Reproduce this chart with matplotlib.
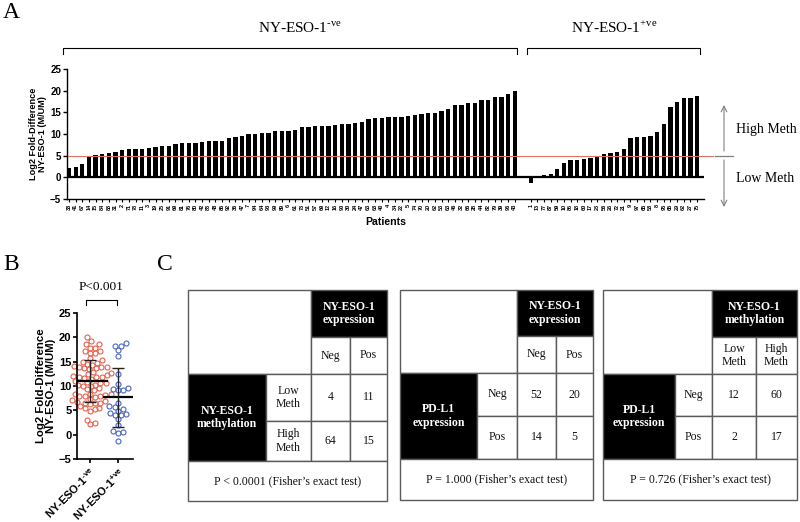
import numpy as np
import matplotlib.pyplot as plt
from matplotlib.patches import Rectangle

# DATA
# panel A / B : NY-ESO-1 negative patients (sorted as in the bar chart)
neg_ids = [38, 41, 67, 14, 15, 84, 88, 31, 2, 71, 78, 11, 3, 19, 25, 91, 69, 81, 76, 80,
           42, 83, 48, 86, 92, 36, 47, 7, 94, 64, 93, 99, 89, 6, 61, 73, 51, 57, 69, 12,
           16, 90, 30, 24, 47, 63, 68, 40, 4, 34, 22, 5, 74, 70, 20, 62, 53, 63, 46, 32,
           66, 28, 44, 82, 79, 39, 96, 43]
neg_vals = [2.2, 2.4, 3.1, 4.9, 5.2, 5.4, 5.5, 5.8, 6.2, 6.5, 6.6, 6.6, 6.7, 7.0, 7.2, 7.3,
            7.7, 7.9, 7.9, 8.0, 8.2, 8.3, 8.4, 8.4, 9.1, 9.3, 9.5, 10.0, 10.1, 10.2, 10.3,
            10.7, 10.7, 10.8, 11.0, 11.5, 11.7, 11.8, 11.8, 11.8, 12.0, 12.2, 12.4, 12.6,
            12.8, 13.5, 13.6, 13.8, 13.9, 13.9, 13.9, 14.2, 14.3, 14.6, 14.8, 14.9, 15.3,
            15.7, 16.8, 16.8, 17.2, 17.2, 17.9, 17.9, 18.6, 18.6, 19.2, 20.0]
# NY-ESO-1 positive patients
pos_ids = [1, 13, 77, 87, 59, 10, 85, 18, 60, 17, 23, 56, 26, 72, 21, 9, 97, 65, 58, 8,
           95, 65, 29, 62, 27, 75]
pos_vals = [-1.2, 0.4, 0.6, 0.7, 1.9, 3.2, 4.0, 4.0, 4.3, 4.5, 4.8, 5.3, 5.6, 5.8, 6.5,
            9.1, 9.2, 9.4, 9.5, 10.5, 12.4, 16.2, 17.3, 18.2, 18.2, 18.8]
threshold = 5

# panel C tables
tables = [
    dict(col_head="NY-ESO-1\nexpression", cols=["Neg", "Pos"],
         row_head="NY-ESO-1\nmethylation", rows=["Low\nMeth", "High\nMeth"],
         vals=[[4, 11], [64, 15]], p="P < 0.0001 (Fisher\u2019s exact test)"),
    dict(col_head="NY-ESO-1\nexpression", cols=["Neg", "Pos"],
         row_head="PD-L1\nexpression", rows=["Neg", "Pos"],
         vals=[[52, 20], [14, 5]], p="P = 1.000 (Fisher\u2019s exact test)"),
    dict(col_head="NY-ESO-1\nmethylation", cols=["Low\nMeth", "High\nMeth"],
         row_head="PD-L1\nexpression", rows=["Neg", "Pos"],
         vals=[[12, 60], [2, 17]], p="P = 0.726 (Fisher\u2019s exact test)"),
]

NEG_LABEL = "NY-ESO-1$^{\\mathregular{\u2010ve}}$"
POS_LABEL = "NY-ESO-1$^{\\mathregular{+ve}}$"

SANS = 'Liberation Sans'
SERIF = 'Liberation Serif'
W, H = 800, 522

def fx(px):
    return px / W

def fy(py):
    return 1 - py / H

fig = plt.figure(figsize=(8, 5.22), dpi=100)

# ---------------- panel A
axA = fig.add_axes([fx(66.7), fy(199), fx(704) - fx(66.7), fy(69) - fy(199)])
xn = np.arange(len(neg_vals))
xp = len(neg_vals) + 1.4 + np.arange(len(pos_vals))
axA.bar(xn, neg_vals, width=0.65, color='black')
axA.bar(xp, pos_vals, width=0.65, color='black')
axA.axhline(0, color='black', lw=1.6)
axA.axhline(threshold, color='#e0705f', lw=0.8, xmin=0, xmax=1.014, clip_on=False)
axA.set_xlim(-0.35, xp[-1] + 1.05)
axA.set_ylim(-5, 25)
axA.set_yticks(range(-5, 26, 5))
axA.set_xticks(np.concatenate([xn, xp]))
axA.set_xticklabels([str(i) for i in neg_ids + pos_ids], rotation=90,
                    fontsize=4, fontweight='bold', family=SANS)
for lab in axA.get_yticklabels():
    lab.set_fontweight('bold')
    lab.set_family(SANS)
axA.tick_params(axis='y', labelsize=7, length=3, width=1, pad=1)
axA.tick_params(axis='x', length=2.5, width=0.8, pad=1)
for s in ['top', 'right']:
    axA.spines[s].set_visible(False)
axA.spines['left'].set_linewidth(1)
axA.spines['bottom'].set_linewidth(1)
axA.set_ylabel("Log2 Fold-Difference\nNY-ESO-1 (M/UM)", fontsize=6.6,
               fontweight='bold', family=SANS, labelpad=2, linespacing=1.0)
axA.set_xlabel("Patients", fontsize=7.6, fontweight='bold', family=SANS, labelpad=5)

# ---------------- panel B
axB = fig.add_axes([fx(77), fy(459), fx(133) - fx(77), fy(313) - fy(459)])


def swarm(vals, center, xscale=28.0, yscale=4.87, d=5.0):
    vals = np.asarray(vals)
    order = np.argsort(vals)
    placed = []
    xs = np.zeros(len(vals))
    for i in order:
        y = vals[i] * yscale
        off = 0.0
        for k in range(60):
            cands = [0.0] if k == 0 else [k * 0.8, -k * 0.8]
            found = False
            for c in cands:
                if all((c - px) ** 2 + (y - py) ** 2 >= d * d for px, py in placed):
                    off = c
                    found = True
                    break
            if found:
                break
        placed.append((off, y))
        xs[i] = center + off / xscale
    return xs


groups = [(neg_vals, '#e8604c', 0.6), (pos_vals, '#4a68c4', 0.5)]
for gi, (vals, col, half) in enumerate(groups):
    xs = swarm(vals, gi)
    axB.plot(xs, vals, 'o', ms=3.6, mfc='none', mec=col, mew=0.8, clip_on=False)
    m = np.mean(vals)
    sd = np.std(vals, ddof=1)
    axB.plot([gi - half, gi + half], [m, m], color='black', lw=1.6, zorder=5)
    axB.errorbar(gi, m, yerr=sd, color='#222222', lw=1.0, capsize=4, capthick=1.0,
                 zorder=5)

axB.set_xlim(-0.46, 1.54)
axB.set_ylim(-5, 25)
axB.set_yticks(range(-5, 26, 5))
axB.set_xticks([0, 1])
axB.set_xticklabels([NEG_LABEL, POS_LABEL],
                    rotation=45, ha='right', rotation_mode='anchor',
                    fontsize=8, fontweight='bold', family=SANS)
for lab in axB.get_yticklabels():
    lab.set_fontweight('bold')
    lab.set_family(SANS)
axB.tick_params(axis='y', labelsize=8, length=3, width=1.2, pad=1)
axB.tick_params(axis='x', length=3, width=1.2, pad=2)
for s in ['top', 'right']:
    axB.spines[s].set_visible(False)
axB.spines['left'].set_linewidth(1.2)
axB.spines['bottom'].set_linewidth(1.2)
axB.set_ylabel("Log2 Fold-Difference\nNY-ESO-1 (M/UM)", fontsize=8.2,
               fontweight='bold', family=SANS, labelpad=2, linespacing=1.0)

# ---------------- overlay: labels, brackets, tables
ov = fig.add_axes([0, 0, 1, 1])
ov.set_xlim(0, W)
ov.set_ylim(H, 0)
ov.set_axis_off()

ov.text(3, 13, "A", fontsize=17, family=SERIF, va='center', ha='left')
ov.text(3, 265, "B", fontsize=17, family=SERIF, va='center', ha='left')
ov.text(157, 265, "C", fontsize=17, family=SERIF, va='center', ha='left')

ov.plot([63, 63, 517, 517], [54, 48, 48, 54], color='black', lw=0.8)
ov.plot([527, 527, 700, 700], [54, 48, 48, 54], color='black', lw=0.8)
ov.text(300, 28, NEG_LABEL, fontsize=11, family=SERIF, ha='center', va='center')
ov.text(614, 28, POS_LABEL, fontsize=11, family=SERIF, ha='center', va='center')

# high / low meth arrows
gray = '#808080'
ov.annotate('', xy=(724, 105), xytext=(724, 151),
            arrowprops=dict(arrowstyle='->', color=gray, lw=0.8, shrinkA=0, shrinkB=0))
ov.annotate('', xy=(724, 207), xytext=(724, 160),
            arrowprops=dict(arrowstyle='->', color=gray, lw=0.8, shrinkA=0, shrinkB=0))
ov.plot([715, 733], [155.7, 155.7], color=gray, lw=0.9)
ov.text(736, 130, "High Meth", fontsize=10, family=SERIF, va='center', ha='left')
ov.text(736, 178, "Low Meth", fontsize=10, family=SERIF, va='center', ha='left')

# p-value bracket for panel B
ov.plot([86, 86, 117, 117], [305, 300, 300, 305], color='black', lw=0.8)
ov.text(101, 287, "P<0.001", fontsize=9.6, family=SERIF, ha='center', va='center')

# tables
xedges = [[188, 266, 311, 350, 387], [400, 477, 517, 556, 593], [603, 675, 712, 756, 797]]
yedges = [[290, 337, 374, 421, 461, 501], [290, 336, 373, 416, 459, 500],
          [290, 337, 374, 416, 459, 500]]
border = '#5a5a5a'
tfs = 8.5


def cell(x0, y0, x1, y1, txt='', dark=False, bold=False):
    ov.add_patch(Rectangle((x0, y0), x1 - x0, y1 - y0, fc='black' if dark else 'white',
                           ec=border, lw=1.0))
    if txt:
        ov.text((x0 + x1) / 2, (y0 + y1) / 2, txt, ha='center', va='center',
                fontsize=tfs, family=SERIF, color='white' if dark else '#111111',
                fontweight='bold' if bold else 'normal', linespacing=1.15)


for t, xe, ye in zip(tables, xedges, yedges):
    cell(xe[0], ye[0], xe[2], ye[2])
    cell(xe[2], ye[0], xe[4], ye[1], t['col_head'], dark=True, bold=True)
    for c in range(2):
        cell(xe[2 + c], ye[1], xe[3 + c], ye[2], t['cols'][c])
    cell(xe[0], ye[2], xe[1], ye[4], t['row_head'], dark=True, bold=True)
    for r in range(2):
        cell(xe[1], ye[2 + r], xe[2], ye[3 + r], t['rows'][r])
        for c in range(2):
            cell(xe[2 + c], ye[2 + r], xe[3 + c], ye[3 + r], str(t['vals'][r][c]))
    cell(xe[0], ye[4], xe[4], ye[5], t['p'])

fig.savefig('out.png', dpi=100)
